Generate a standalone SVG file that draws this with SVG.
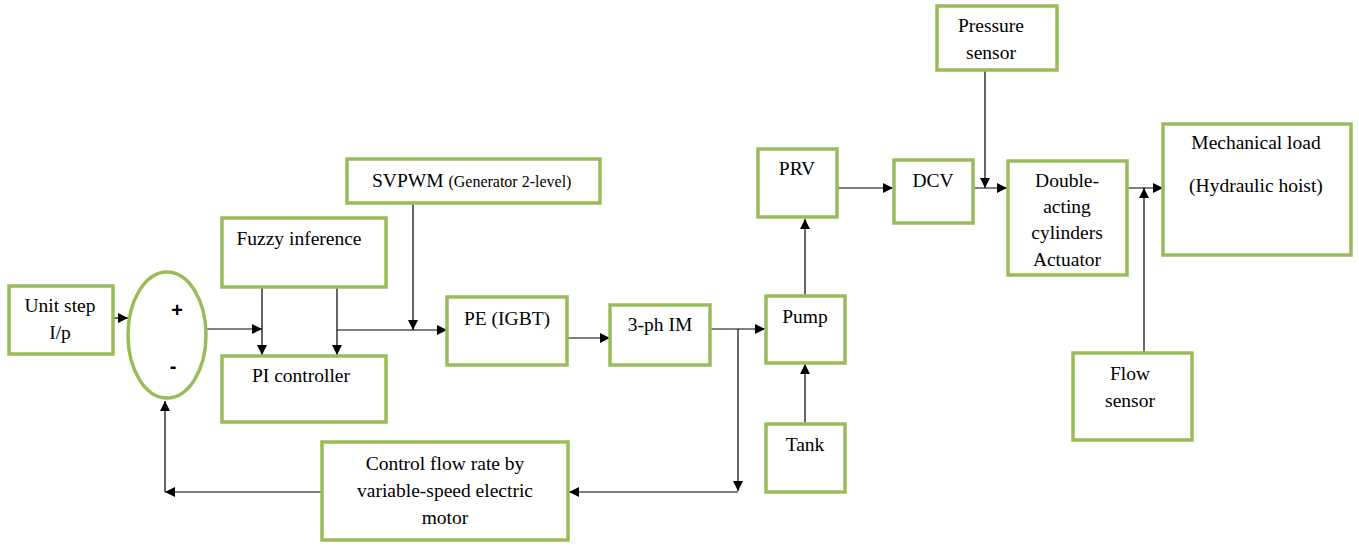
<svg xmlns="http://www.w3.org/2000/svg" width="1359" height="546" viewBox="0 0 1359 546">
<style>
.box{fill:#fff;stroke:#9bbb59;stroke-width:3.5}
.t{font-size:19.5px;fill:#000;text-anchor:middle}
.s{font-size:20px;font-weight:bold;fill:#000;text-anchor:middle}
.c{fill:none;stroke:#000;stroke-width:1.2}
</style>
<defs>
<marker id="a" viewBox="0 0 10 10" refX="10" refY="5" markerWidth="10" markerHeight="10" markerUnits="userSpaceOnUse" orient="auto">
<path d="M0,0 L10,5 L0,10 z" fill="#000"/>
</marker>
</defs>
<rect width="1359" height="546" fill="#fff"/>
<g id="connectors">
<line class="c" x1="114" y1="318" x2="128" y2="318" marker-end="url(#a)"/>
<line class="c" x1="207" y1="329" x2="262" y2="329" marker-end="url(#a)"/>
<line class="c" x1="262" y1="288" x2="262" y2="355" marker-end="url(#a)"/>
<line class="c" x1="337" y1="288" x2="337" y2="355" marker-end="url(#a)"/>
<line class="c" x1="337" y1="330" x2="447" y2="330" marker-end="url(#a)"/>
<line class="c" x1="413" y1="203" x2="413" y2="330" marker-end="url(#a)"/>
<line class="c" x1="567" y1="338" x2="610" y2="338" marker-end="url(#a)"/>
<line class="c" x1="710" y1="329" x2="765" y2="329" marker-end="url(#a)"/>
<line class="c" x1="738" y1="329" x2="738" y2="491" marker-end="url(#a)"/>
<line class="c" x1="738" y1="492" x2="569" y2="492" marker-end="url(#a)"/>
<line class="c" x1="322" y1="492" x2="165" y2="492" marker-end="url(#a)"/>
<line class="c" x1="165" y1="492" x2="165" y2="401" marker-end="url(#a)"/>
<line class="c" x1="805" y1="424" x2="805" y2="364" marker-end="url(#a)"/>
<line class="c" x1="805" y1="296" x2="805" y2="219" marker-end="url(#a)"/>
<line class="c" x1="837" y1="188" x2="893" y2="188" marker-end="url(#a)"/>
<line class="c" x1="973" y1="188" x2="1007" y2="188" marker-end="url(#a)"/>
<line class="c" x1="985" y1="70" x2="985" y2="188" marker-end="url(#a)"/>
<line class="c" x1="1127" y1="188" x2="1163" y2="188" marker-end="url(#a)"/>
<line class="c" x1="1144" y1="353" x2="1144" y2="188" marker-end="url(#a)"/>
</g>
<g font-family="'Liberation Serif', 'DejaVu Serif', serif">
<g id="unit-step"><rect class="box" x="9" y="286" width="104" height="68"/><text class="t" x="60" y="312">Unit step</text><text class="t" x="60" y="339">I/p</text></g>
<g id="summer"><ellipse cx="167" cy="335" rx="39" ry="63" fill="#fff" stroke="#9bbb59" stroke-width="3.5"/><text class="s" font-family="'Liberation Sans', sans-serif" x="177" y="317">+</text><text class="s" font-family="'Liberation Sans', sans-serif" x="173" y="373">-</text></g>
<g id="fuzzy"><rect class="box" x="222" y="218" width="164" height="69"/><text class="t" x="299" y="245">Fuzzy inference</text></g>
<g id="pi"><rect class="box" x="222" y="356" width="164" height="66"/><text class="t" x="301" y="382">PI controller</text></g>
<g id="svpwm"><rect class="box" x="347" y="159" width="253" height="44"/><text class="t" x="372" y="187" style="text-anchor:start">SVPWM <tspan font-size="16px">(Generator 2-level)</tspan></text></g>
<g id="pe"><rect class="box" x="447" y="297" width="120" height="68"/><text class="t" x="507" y="325">PE (IGBT)</text></g>
<g id="im"><rect class="box" x="610" y="305" width="100" height="60"/><text class="t" x="660" y="331">3-ph IM</text></g>
<g id="pump"><rect class="box" x="766" y="296" width="79" height="67"/><text class="t" x="805" y="323">Pump</text></g>
<g id="tank"><rect class="box" x="766" y="424" width="79" height="68"/><text class="t" x="805" y="451">Tank</text></g>
<g id="prv"><rect class="box" x="758" y="149" width="79" height="68"/><text class="t" x="797" y="175">PRV</text></g>
<g id="dcv"><rect class="box" x="894" y="160" width="79" height="63"/><text class="t" x="933" y="187">DCV</text></g>
<g id="pressure"><rect class="box" x="937" y="6" width="120" height="64"/><text class="t" x="991" y="32">Pressure</text><text class="t" x="991" y="59">sensor</text></g>
<g id="actuator"><rect class="box" x="1008" y="161" width="119" height="114"/><text class="t" x="1067" y="187">Double-</text><text class="t" x="1067" y="213">acting</text><text class="t" x="1067" y="239">cylinders</text><text class="t" x="1067" y="266">Actuator</text></g>
<g id="load"><rect class="box" x="1163" y="124" width="188" height="131"/><text class="t" x="1256" y="149">Mechanical load</text><text class="t" x="1256" y="192">(Hydraulic hoist)</text></g>
<g id="flow"><rect class="box" x="1073" y="353" width="119" height="87"/><text class="t" x="1130" y="380">Flow</text><text class="t" x="1130" y="407">sensor</text></g>
<g id="control"><rect class="box" x="322" y="442" width="246" height="98"/><text class="t" x="445" y="470">Control flow rate by</text><text class="t" x="445" y="497">variable-speed electric</text><text class="t" x="445" y="524">motor</text></g>
</g>
</svg>
